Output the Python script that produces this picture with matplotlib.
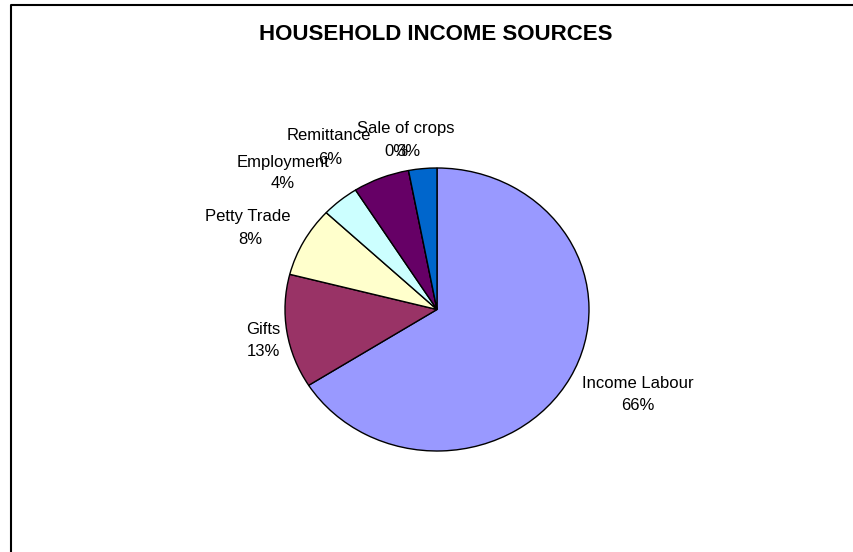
import numpy as np
from matplotlib import pyplot as plt

# income sources, clockwise from the top
sources = ['Income Labour', 'Gifts', 'Petty Trade', 'Employment', 'Remittance', '', 'Sale of crops']
shares = [66, 13, 8, 4, 6, 0, 3]
colors = ['#9999FF', '#993366', '#FFFFCC', '#CCFFFF', '#660066', '#FF8080', '#0066CC']

W, H = 854, 552
# the original chart was stretched sideways a little, so the pie is an ellipse
sx = 152 / 141.5

# label centres in pixels (x, y from top): name line, percent line
name_xy = [(638, 383), (263, 329), (248, 217), (283, 162), (329, 136), (396, 128), (406, 128)]
pct_xy = [(638, 406), (263, 351), (250, 240), (283, 184), (330, 159), (396, 151), (408, 151)]

fig = plt.figure(figsize=(W / 100, H / 100), dpi=100)
ax = fig.add_axes([0, 0, 1, 1])

ax.pie(shares, colors=colors, startangle=90, counterclock=False,
       center=(437 / sx, H - 309.5), radius=141.5, frame=True,
       wedgeprops=dict(edgecolor='black', linewidth=1))

total = float(sum(shares))
for name, (nx, ny), (px, py), v in zip(sources, name_xy, pct_xy, shares):
    if name:
        ax.text(nx / sx, H - ny, name, ha='center', va='center', fontsize=12,
                family='Liberation Sans', color='black')
    ax.text(px / sx, H - py, '{:.0f}%'.format(v / total * 100), ha='center', va='center',
            fontsize=12, family='Liberation Sans', color='black')

ax.text(436 / sx, H - 35, 'HOUSEHOLD INCOME SOURCES', ha='center', va='center',
        fontsize=16, fontweight='bold', family='Liberation Sans')

# chart frame: only the top and left edges fall inside the picture
ax.plot([11 / sx, 11 / sx, (W + 5) / sx], [-5, H - 5, H - 5], color='black',
        linewidth=1.5, clip_on=False)

ax.set_xlim(0, W / sx)
ax.set_ylim(0, H)
ax.set_aspect('auto')
ax.axis('off')

plt.savefig('out.png', dpi=100)
